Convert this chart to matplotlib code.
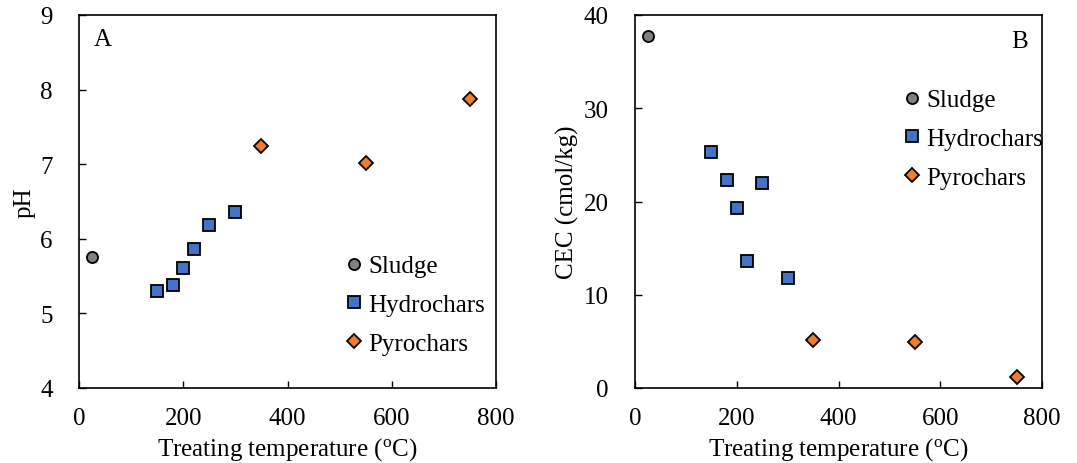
import matplotlib
matplotlib.use("Agg")
import matplotlib.pyplot as plt

plt.rcParams['font.family'] = ['Liberation Serif', 'DejaVu Serif']
plt.rcParams['mathtext.fontset'] = 'custom'
plt.rcParams['mathtext.rm'] = 'Liberation Serif'

sludge_T = [25]
sludge_pH = [5.75]
sludge_CEC = [37.8]

hydro_T = [150, 180, 200, 220, 250, 300]
hydro_pH = [5.30, 5.38, 5.61, 5.86, 6.18, 6.36]
hydro_CEC = [25.3, 22.3, 19.3, 13.6, 22.0, 11.8]

pyro_T = [350, 550, 750]
pyro_pH = [7.24, 7.02, 7.88]
pyro_CEC = [5.1, 4.9, 1.2]

series_names = ['Sludge', 'Hydrochars', 'Pyrochars']
colors = ['#808080', '#4472C4', '#ED7D31']
markers = ['o', 's', 'D']
msizes = [8, 9, 7]

W, H = 1077, 464
fig = plt.figure(figsize=(W / 100, H / 100), dpi=100)
axA = fig.add_axes([79/W, 1-389/H, (496-79)/W, (389-16)/H])
axB = fig.add_axes([635/W, 1-389/H, (1042-635)/W, (389-16)/H])

fs = 18
for ax, yvals, ylabel, ylim, yticks, letter, legxy in [
        (axA, [sludge_pH, hydro_pH, pyro_pH], 'pH', (4, 9), range(4, 10), 'A', (341, 256)),
        (axB, [sludge_CEC, hydro_CEC, pyro_CEC], 'CEC (cmol/kg)', (0, 40), range(0, 41, 10), 'B', (899, 90))]:
    xs = [sludge_T, hydro_T, pyro_T]
    for x, y, name, c, m, ms in zip(xs, yvals, series_names, colors, markers, msizes):
        ax.plot(x, y, linestyle='none', marker=m, markersize=ms, markerfacecolor=c,
                markeredgecolor='black', markeredgewidth=1.3, label=name)
    ax.set_xlim(0, 800)
    ax.set_ylim(*ylim)
    ax.set_xticks([0, 200, 400, 600, 800])
    ax.set_yticks(list(yticks))
    ax.tick_params(direction='in', length=5, width=1, labelsize=fs)
    ax.tick_params(axis='x', pad=14)
    ax.tick_params(axis='y', pad=19)
    for s in ax.spines.values():
        s.set_linewidth(1.2)
    ax.set_xlabel('Treating temperature ($\\mathregular{^o}$C)', fontsize=fs, labelpad=4)
    ax.set_ylabel(ylabel, fontsize=fs, labelpad=3)
    if letter == 'A':
        ax.text(0.035, 0.935, letter, transform=ax.transAxes, fontsize=fs, va='center', ha='left')
    else:
        ax.text(0.965, 0.93, letter, transform=ax.transAxes, fontsize=fs, va='center', ha='right')
    leg = ax.legend(loc='upper left', bbox_to_anchor=(legxy[0] / W, 1 - legxy[1] / H),
                    bbox_transform=fig.transFigure, frameon=False, fontsize=fs,
                    handletextpad=0.1, labelspacing=0.64, borderpad=0, borderaxespad=0,
                    handlelength=1.0)

fig.savefig('out.png', dpi=100)
